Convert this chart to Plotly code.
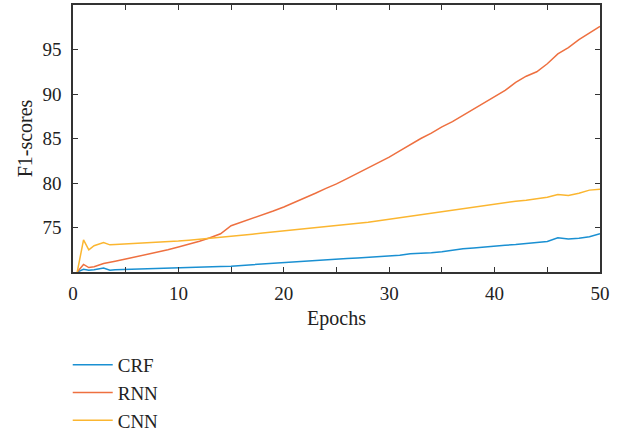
import plotly.graph_objects as go

epochs = [0.4, 1, 1.5, 2, 2.9, 3.5] + list(range(4, 51))

crf = [70.0, 70.3, 70.2, 70.25, 70.45, 70.2,
       70.25, 70.28, 70.31, 70.34, 70.37, 70.40, 70.44, 70.48, 70.52, 70.56,
       70.61, 70.66, 70.74, 70.82, 70.92, 71.00, 71.10, 71.17, 71.25, 71.30,
       71.38, 71.45, 71.52, 71.58, 71.66, 71.72, 71.80, 71.88, 72.05, 72.06,
       72.15, 72.27, 72.45, 72.60, 72.70, 72.82, 72.92, 73.00, 73.08, 73.20,
       73.30, 73.42, 73.85, 73.72, 73.80, 73.95, 74.30]

rnn = [70.0, 70.85, 70.5, 70.6, 70.95, 71.05,
       71.2, 71.45, 71.7, 71.95, 72.25, 72.5, 72.8, 73.1, 73.45, 73.85,
       74.3, 75.2, 75.6, 76.0, 76.45, 76.85, 77.3, 77.8, 78.35, 78.85,
       79.4, 79.9, 80.5, 81.1, 81.7, 82.3, 82.9, 83.6, 84.3, 85.0,
       85.6, 86.3, 86.9, 87.6, 88.3, 89.0, 89.7, 90.4, 91.3, 92.0,
       92.5, 93.4, 94.5, 95.2, 96.1, 96.9, 97.6]

cnn = [70.0, 73.6, 72.5, 72.95, 73.3, 73.05,
       73.1, 73.15, 73.2, 73.25, 73.32, 73.4, 73.48, 73.58, 73.68, 73.78,
       73.88, 74.0, 74.12, 74.25, 74.38, 74.5, 74.62, 74.72, 74.82, 74.95,
       75.08, 75.2, 75.33, 75.45, 75.6, 75.75, 75.92, 76.1, 76.25, 76.45,
       76.55, 76.8, 76.95, 77.1, 77.25, 77.45, 77.6, 77.8, 77.95, 78.05,
       78.2, 78.4, 78.7, 78.6, 78.85, 79.2, 79.3]

series_names = ["CRF", "RNN", "CNN"]
series_colors = ["#1a90d2", "#ee7040", "#fbb630"]

x_tickvals = list(range(0, 51, 5))
x_ticktext = [str(v) if v % 10 == 0 else "" for v in x_tickvals]
y_tickvals = [75, 80, 85, 90, 95]

font_family = "Liberation Serif, Times New Roman, serif"
fs = 20

fig = go.Figure()
for name, vals, col in zip(series_names, [crf, rnn, cnn], series_colors):
    fig.add_trace(go.Scatter(x=epochs, y=vals, mode="lines", name=name,
                             line=dict(color=col, width=1.5)))

axis_common = dict(showline=True, linecolor="#333333", linewidth=1.5, mirror="ticks",
                   ticks="inside", ticklen=5, tickwidth=1.2, tickcolor="#333333",
                   showgrid=False, zeroline=False, automargin=True,
                   tickfont=dict(family=font_family, size=19, color="#222222"))

fig.update_layout(
    width=622, height=432,
    margin=dict(l=73, r=22, t=5, b=160, autoexpand=False),
    paper_bgcolor="white", plot_bgcolor="white",
    font=dict(family=font_family, size=fs, color="#222222"),
    xaxis=dict(range=[0, 50], tickvals=x_tickvals, ticktext=x_ticktext,
               ticklabelstandoff=3,
               title=dict(text="Epochs", font=dict(family=font_family, size=fs), standoff=8),
               **axis_common),
    yaxis=dict(range=[70, 100], tickvals=y_tickvals, ticklabelstandoff=6,
               title=dict(text="F1-scores", font=dict(family=font_family, size=fs), standoff=4),
               **axis_common),
    legend=dict(x=-0.01, y=-0.277, xanchor="left", yanchor="top",
                font=dict(family=font_family, size=19, color="#222222"),
                bgcolor="rgba(0,0,0,0)", tracegroupgap=0, itemwidth=40),
    showlegend=True,
)

fig.write_html("out.html", post_script="document.body.style.margin='0';",
               config={"displayModeBar": False})
